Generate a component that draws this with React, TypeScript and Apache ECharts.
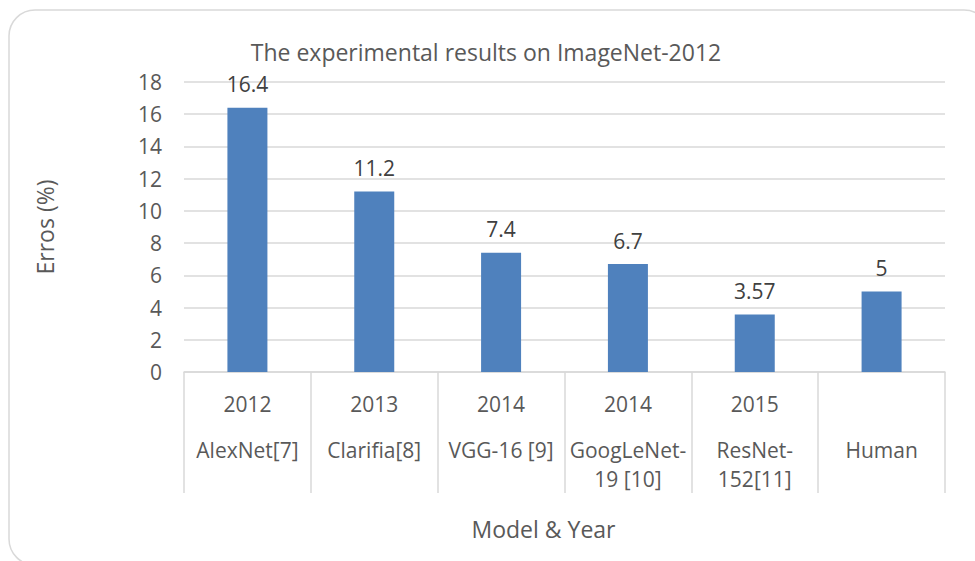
import React, { useEffect, useRef } from "react";
import * as echarts from "echarts";

const titleText = "The experimental results on ImageNet-2012";
const models = ["AlexNet[7]", "Clarifia[8]", "VGG-16 [9]", "GoogLeNet-\n19 [10]", "ResNet-\n152[11]", "Human"];
const years = ["2012", "2013", "2014", "2014", "2015", ""];
const errors = [16.4, 11.2, 7.4, 6.7, 3.57, 5];
const yTicks = { min: 0, max: 18, interval: 2 };
const xAxisTitle = "Model & Year";
const yAxisTitle = "Erros (%)";

const FONT = "Open Sans";

export default function App() {
  const ref = useRef<HTMLDivElement>(null);
  useEffect(() => {
    if (!ref.current) return;
    const chart = echarts.init(ref.current, undefined, { renderer: "svg" });
    chart.setOption({
      animation: false,
      backgroundColor: "#ffffff",
      textStyle: { fontFamily: FONT },
      title: {
        text: titleText,
        left: 481,
        top: 35,
        textAlign: "center",
        textStyle: { fontFamily: FONT, fontSize: 23, fontWeight: "normal", color: "#595959" },
      },
      graphic: [
        {
          type: "rect",
          shape: { x: 9, y: 10, width: 981, height: 555, r: 26 },
          style: { fill: "none", stroke: "#d9d9d9", lineWidth: 1.5 },
          silent: true,
          z: -1,
        },
      ],
      grid: { left: 184, right: 30, top: 82, bottom: 189, containLabel: false },
      xAxis: {
        type: "category",
        data: models,
        boundaryGap: true,
        name: xAxisTitle,
        nameLocation: "middle",
        nameGap: 145,
        nameTextStyle: { fontFamily: FONT, fontSize: 23, color: "#595959", padding: [0, 42, 0, 0] },
        axisLine: { show: true, lineStyle: { color: "#d9d9d9", width: 1.5 } },
        axisTick: { show: true, length: 121, interval: 0, lineStyle: { color: "#d9d9d9", width: 1.5 } },
        axisLabel: {
          interval: 0,
          margin: 0,
          color: "#595959",
          fontFamily: FONT,
          fontSize: 21,
          verticalAlign: "top",
          formatter: (value: string, index: number) => `{y|${years[index] || " "}}\n{n|${value}}`,
          rich: {
            y: { fontFamily: FONT, fontSize: 21, color: "#595959", lineHeight: 63, align: "center" },
            n: { fontFamily: FONT, fontSize: 21, color: "#595959", lineHeight: 29, align: "center" },
          },
        },
      },
      yAxis: {
        type: "value",
        min: yTicks.min,
        max: yTicks.max,
        interval: yTicks.interval,
        name: yAxisTitle,
        nameLocation: "middle",
        nameGap: 128,
        nameRotate: 90,
        nameTextStyle: { fontFamily: FONT, fontSize: 23, color: "#595959" },
        axisLine: { show: false },
        axisTick: { show: false },
        splitLine: { lineStyle: { color: "#d9d9d9", width: 1.5 } },
        axisLabel: { margin: 22, color: "#595959", fontFamily: FONT, fontSize: 21 },
      },
      series: [
        {
          type: "bar",
          data: errors,
          barWidth: 40,
          itemStyle: { color: "#4f81bd" },
          label: {
            show: true,
            position: "top",
            distance: 13,
            color: "#404040",
            fontFamily: FONT,
            fontSize: 21,
          },
        },
      ],
    });
    return () => chart.dispose();
  }, []);
  return (
    <div
      ref={ref}
      style={{ position: "fixed", left: 0, top: 0, width: 975, height: 561 }}
    />
  );
}
